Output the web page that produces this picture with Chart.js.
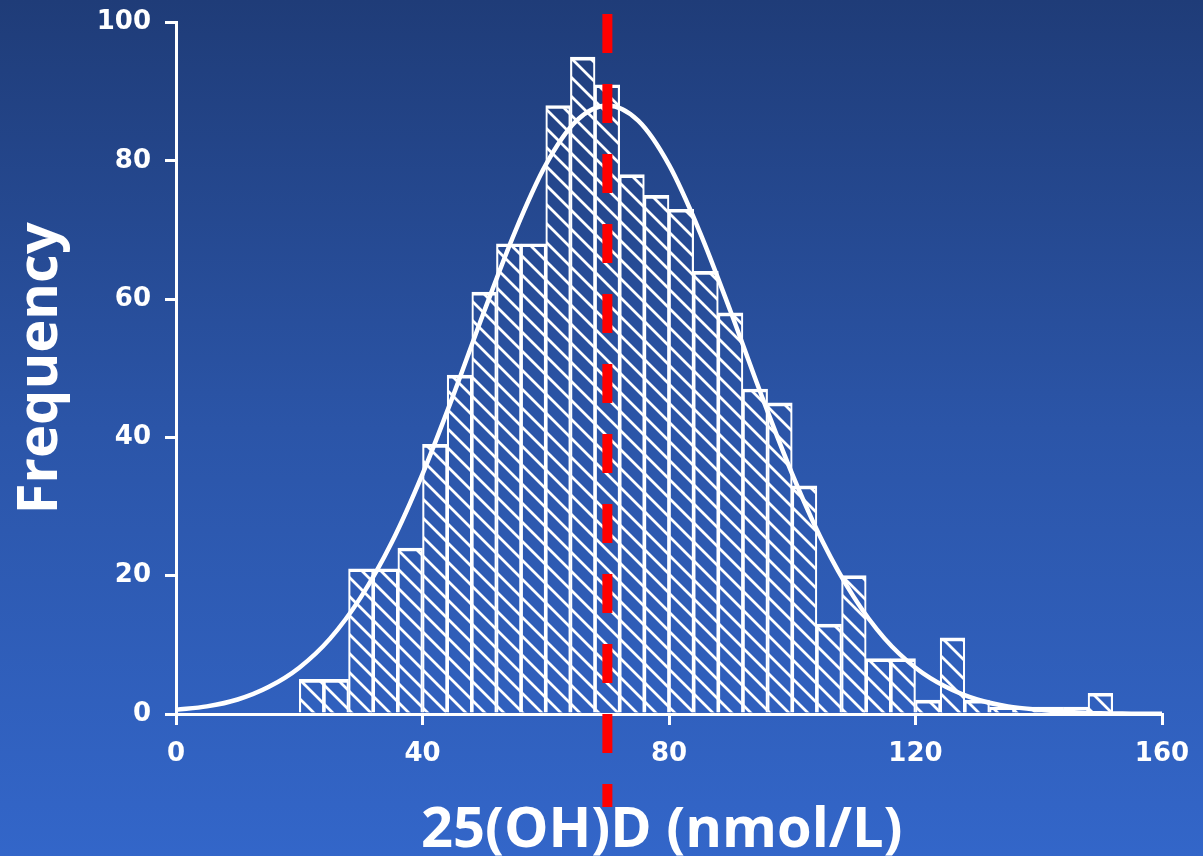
<!DOCTYPE html>
<html>
<head>
<meta charset="utf-8">
<script src="https://cdn.jsdelivr.net/npm/chart.js@4"></script>
<style>
    html, body {
        margin: 0;
        padding: 0;
    }
    body {
        width: 1203px;
        height: 856px;
        overflow: hidden;
        background: linear-gradient(to bottom, #1f3c78 0%, #2b55a8 50%, #3366c9 100%);
    }
    #wrap {
        position: relative;
        width: 1203px;
        height: 856px;
    }
</style>
</head>
<body>
<div id="wrap"><canvas id="histChart"></canvas></div>
<script>
// ヒストグラムの階級（中心値、幅4 nmol/L）
const binCenters = [22, 26, 30, 34, 38, 42, 46, 50, 54, 58, 62, 66, 70, 74, 78, 82, 86,
    90, 94, 98, 102, 106, 110, 114, 118, 122, 126, 130, 134, 138, 142, 146, 150];
const binCounts = [5, 5, 21, 21, 24, 39, 49, 61, 68, 68, 88, 95, 91, 78, 75, 73, 64,
    58, 47, 45, 33, 13, 20, 8, 8, 2, 11, 2, 1, 1, 1, 1, 3];

// 正規分布曲線
const curveX = [0, 5, 10, 15, 20, 25, 30, 35, 40, 45, 50, 55, 60, 65, 70, 75, 80,
    85, 90, 95, 100, 105, 110, 115, 120, 125, 130, 135, 140, 145, 150, 155, 160];
const curveY = [0.6, 1.1, 2.1, 3.9, 6.7, 10.9, 16.9, 24.8, 34.7, 46.1, 58.2, 69.7, 79.4, 85.8, 88, 85.8, 79.4,
    69.7, 58.2, 46.1, 34.7, 24.8, 16.9, 10.9, 6.7, 3.9, 2.1, 1.1, 0.6, 0.3, 0.1, 0.05, 0.02];

const meanValue = 70; // 赤い破線の位置
const xTicks = [0, 40, 80, 120, 160];
const yTicks = [0, 20, 40, 60, 80, 100];

// 斜線パターン
function makeHatch() {
    const s = 19;
    const c = document.createElement('canvas');
    c.width = s;
    c.height = s;
    const g = c.getContext('2d');
    g.strokeStyle = '#ffffff';
    g.lineWidth = 2.8;
    g.beginPath();
    g.moveTo(0, 0);
    g.lineTo(s, s);
    g.moveTo(s - 3, -3);
    g.lineTo(s + 3, 3);
    g.moveTo(-3, s - 3);
    g.lineTo(3, s + 3);
    g.stroke();
    return g.createPattern(c, 'repeat');
}

// 平均値の赤い破線
const meanLinePlugin = {
    id: 'meanLine',
    afterDraw(chart) {
        const ctx = chart.ctx;
        const x = chart.scales.x.getPixelForValue(meanValue);
        ctx.save();
        ctx.strokeStyle = '#ff0000';
        ctx.lineWidth = 10;
        ctx.setLineDash([39, 31]);
        ctx.beginPath();
        ctx.moveTo(x, 14);
        ctx.lineTo(x, 807);
        ctx.stroke();
        ctx.restore();
    }
};

const tickFont = { family: 'DejaVu Sans', size: 26, weight: 'bold' };
const titleFont = { family: 'Open Sans', size: 56, weight: 'bold', lineHeight: 1 };

const ctx = document.getElementById('histChart').getContext('2d');
new Chart(ctx, {
    type: 'bar',
    data: {
        datasets: [{
            type: 'line',
            data: curveX.map((x, i) => ({ x: x, y: curveY[i] })),
            borderColor: '#ffffff',
            borderWidth: 4.5,
            pointRadius: 0,
            fill: false,
            cubicInterpolationMode: 'monotone',
            order: 1
        }, {
            type: 'bar',
            data: binCenters.map((x, i) => ({ x: x, y: binCounts[i] })),
            backgroundColor: makeHatch(),
            borderColor: '#ffffff',
            borderWidth: { top: 3, left: 1.5, right: 1.5, bottom: 0 },
            barPercentage: 1,
            categoryPercentage: 1,
            order: 2
        }]
    },
    options: {
        responsive: true,
        maintainAspectRatio: false,
        animation: false,
        layout: {
            padding: { top: 22.5, right: 41, bottom: 0, left: 0 }
        },
        plugins: {
            legend: { display: false },
            tooltip: { enabled: false }
        },
        scales: {
            x: {
                type: 'linear',
                min: 0,
                max: 160,
                offset: false,
                afterFit: (scale) => {
                    scale.height = 142;
                    scale.paddingLeft = 0;
                    scale.paddingRight = 0;
                },
                afterBuildTicks: (scale) => { scale.ticks = xTicks.map(v => ({ value: v })); },
                ticks: { color: '#ffffff', font: tickFont, padding: 14, maxRotation: 0 },
                grid: { offset: false, drawOnChartArea: false, tickLength: 11, color: '#ffffff', lineWidth: 3 },
                border: { color: '#ffffff', width: 3 },
                title: {
                    display: true,
                    text: '25(OH)D (nmol/L)\u00a0',
                    color: '#ffffff',
                    font: titleFont,
                    padding: { top: 0, bottom: -3 }
                }
            },
            y: {
                min: 0,
                max: 100,
                afterFit: (scale) => {
                    scale.width = 176;
                    scale.paddingTop = 0;
                    scale.paddingBottom = 0;
                },
                afterBuildTicks: (scale) => { scale.ticks = yTicks.map(v => ({ value: v })); },
                ticks: { color: '#ffffff', font: tickFont, padding: 14 },
                grid: { drawOnChartArea: false, tickLength: 11, color: '#ffffff', lineWidth: 3 },
                border: { color: '#ffffff', width: 3 },
                title: {
                    display: true,
                    text: 'Frequency',
                    color: '#ffffff',
                    font: titleFont,
                    padding: { top: 13, bottom: 0 }
                }
            }
        }
    },
    plugins: [meanLinePlugin]
});
</script>
</body>
</html>
